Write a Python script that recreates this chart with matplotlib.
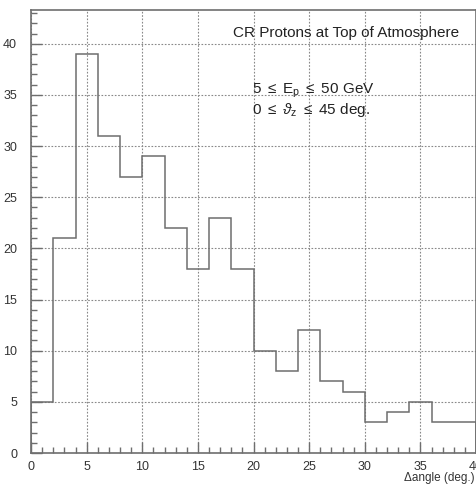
import matplotlib
matplotlib.use("Agg")
import matplotlib.pyplot as plt
from matplotlib.ticker import MultipleLocator

# histogram contents, bins of 2 deg from 0 to 40
bin_edges = list(range(0, 42, 2))
counts = [5, 21, 39, 31, 27, 29, 22, 18, 23, 18, 10, 8, 12, 7, 6, 3, 4, 5, 3, 3]

title = "CR Protons at Top of Atmosphere"
cut_lines = [r"5 $\leq$ E$_\mathrm{p}$ $\leq$ 50 GeV",
             r"0 $\leq$ $\vartheta_\mathrm{z}$ $\leq$ 45 deg."]
xlabel = "\u0394angle (deg.)"

plt.rcParams['font.family'] = ['Liberation Sans', 'DejaVu Sans']
plt.rcParams['mathtext.fontset'] = 'custom'
plt.rcParams['mathtext.rm'] = 'Liberation Sans'
plt.rcParams['mathtext.it'] = 'Liberation Sans:italic'

W, H = 477, 484
fig = plt.figure(figsize=(W / 100, H / 100), dpi=100)
ax = fig.add_axes([31 / W, (H - 453) / H, (476 - 31) / W, (453 - 10) / H])

line_col = "#6e6e6e"
ax.stairs(counts, bin_edges, color=line_col, linewidth=1.1)

ax.set_xlim(0, 40)
ax.set_ylim(0, 43.3)
ax.xaxis.set_major_locator(MultipleLocator(5))
ax.xaxis.set_minor_locator(MultipleLocator(1))
ax.yaxis.set_major_locator(MultipleLocator(5))
ax.yaxis.set_minor_locator(MultipleLocator(1))
ax.tick_params(which='both', direction='in', color=line_col, labelcolor="#333333",
               labelsize=9, top=False, right=False)
ax.tick_params(which='major', length=8, width=1)
ax.tick_params(which='minor', length=4, width=1)
ax.tick_params(axis='x', pad=6)
ax.tick_params(axis='y', pad=10)
for s in ax.spines.values():
    s.set_color(line_col)
    s.set_linewidth(1.2)
ax.grid(True, which='major', linestyle=(0, (1.5, 1.5)), color="#888888", linewidth=0.8)
ax.set_axisbelow(True)

ax.text(38.47, 40.4, title, ha='right', va='bottom', fontsize=11, color="#222222")
ax.text(19.9, 35.1, cut_lines[0], fontsize=11, color="#222222")
ax.text(19.9, 33.1, cut_lines[1], fontsize=11, color="#222222")

fig.text(475 / W, 1 - 478 / H, xlabel, ha='right', va='center', fontsize=8.5, color="#333333")

fig.savefig("out.png", dpi=100)
